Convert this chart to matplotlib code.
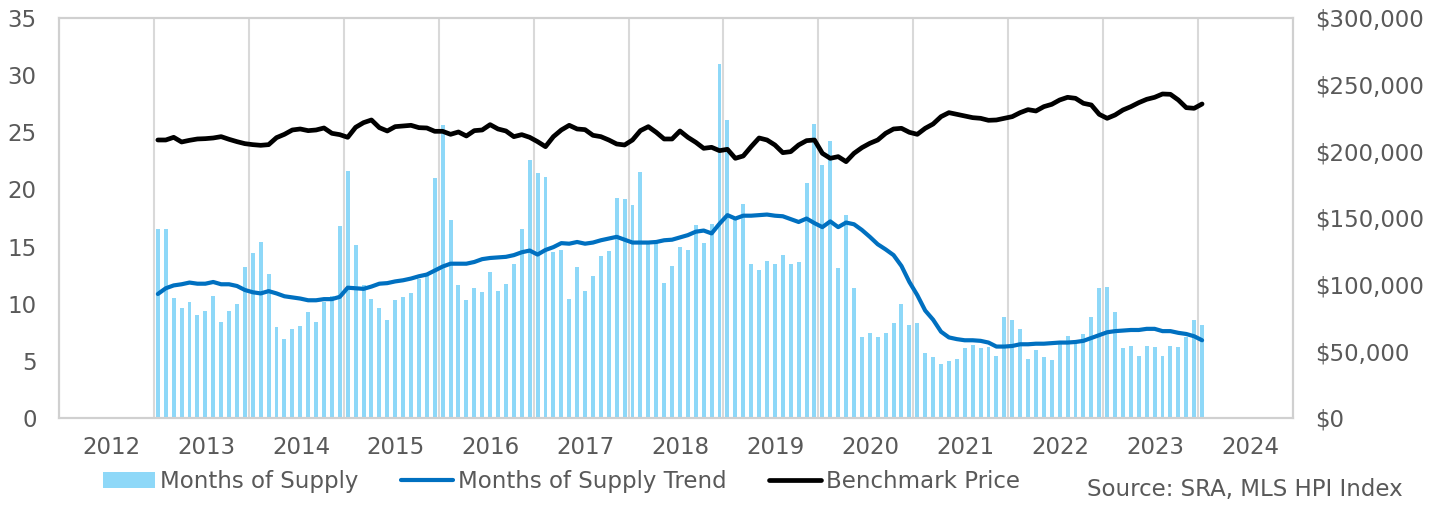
import matplotlib
matplotlib.use("Agg")
import matplotlib.pyplot as plt
from matplotlib.ticker import FuncFormatter
import numpy as np

plt.rcParams['font.family'] = ['DejaVu Sans']

# monthly values, Jul 2012 .. Jul 2023
months_of_supply = [
    16.5, 16.5, 10.5, 9.6, 10.15, 9.0, 9.36, 10.7, 8.37, 9.4, 10.0, 13.2,
    14.4, 15.4, 12.6, 8.0, 6.9, 7.8, 8.05, 9.3, 8.37, 10.15, 10.7, 16.8,
    21.6, 15.1, 11.6, 10.4, 9.6, 8.6, 10.3, 10.6, 10.9, 12.2, 12.4, 21.0,
    25.6, 17.35, 11.6, 10.3, 11.35, 11.0, 12.8, 11.1, 11.7, 13.5, 16.5, 22.6,
    21.4, 21.1, 14.55, 14.7, 10.4, 13.2, 11.1, 12.4, 14.2, 14.6, 19.25, 19.2,
    18.6, 21.55, 15.3, 15.3, 11.8, 13.3, 15.0, 14.7, 16.9, 15.3, 17.0, 31.0,
    26.1, 17.4, 18.7, 13.5, 12.95, 13.7, 13.5, 14.3, 13.5, 13.65, 20.6, 25.75,
    22.1, 24.2, 13.1, 17.75, 11.35, 7.1, 7.4, 7.1, 7.4, 8.35, 9.95, 8.1,
    8.3, 5.7, 5.3, 4.75, 5.0, 5.2, 6.1, 6.4, 6.15, 6.2, 5.45, 8.85,
    8.6, 7.75, 5.15, 5.95, 5.3, 5.1, 6.5, 7.2, 6.7, 7.35, 8.8, 11.4,
    11.45, 9.3, 6.1, 6.3, 5.45, 6.3, 6.25, 5.4, 6.3, 6.25, 7.1, 8.6,
    8.1,
]

supply_trend = [
    10.85, 11.35, 11.6, 11.7, 11.85, 11.75, 11.75, 11.9, 11.7, 11.7, 11.55, 11.2,
    11.0, 10.9, 11.1, 10.9, 10.65, 10.55, 10.45, 10.3, 10.3, 10.4, 10.4, 10.6,
    11.4, 11.35, 11.3, 11.5, 11.75, 11.8, 11.95, 12.05, 12.2, 12.4, 12.55, 12.9,
    13.25, 13.5, 13.5, 13.5, 13.65, 13.9, 14.0, 14.05, 14.1, 14.25, 14.5, 14.65,
    14.3, 14.7, 14.95, 15.3, 15.25, 15.4, 15.25, 15.35, 15.55, 15.7, 15.85, 15.6,
    15.35, 15.35, 15.35, 15.4, 15.55, 15.6, 15.8, 16.0, 16.3, 16.4, 16.15, 17.0,
    17.75, 17.45, 17.7, 17.7, 17.75, 17.8, 17.7, 17.65, 17.4, 17.15, 17.45, 17.05,
    16.7, 17.2, 16.7, 17.1, 16.95, 16.45, 15.85, 15.2, 14.75, 14.25, 13.3, 11.9,
    10.75, 9.4, 8.6, 7.55, 7.05, 6.9, 6.8, 6.8, 6.75, 6.6, 6.25, 6.25,
    6.3, 6.45, 6.45, 6.5, 6.5, 6.55, 6.6, 6.6, 6.65, 6.75, 7.0, 7.25,
    7.5, 7.6, 7.65, 7.7, 7.7, 7.8, 7.8, 7.6, 7.6, 7.45, 7.35, 7.15,
    6.8,
]

benchmark_price = [
    208500, 208500, 210500, 207000, 208250, 209250, 209500, 210000, 211000, 209000, 207250, 205750,
    205000, 204500, 205000, 210250, 212750, 216000, 216750, 215500, 216000, 217500, 213500, 212500,
    210500, 218000, 221500, 223500, 217750, 215250, 218500, 219000, 219500, 217750, 217500, 215000,
    215000, 212750, 214500, 211500, 215500, 216000, 220000, 216750, 215250, 211000, 212500, 210500,
    207250, 203500, 211000, 216000, 219500, 216750, 216250, 212000, 211000, 208500, 205500, 204750,
    208500, 215500, 218500, 214250, 209250, 209250, 215250, 210500, 206750, 202250, 203000, 200500,
    201500, 194750, 196500, 203500, 210000, 208500, 204750, 199000, 199750, 204750, 208000, 208500,
    198500, 194750, 196000, 192250, 198500, 202750, 206000, 208500, 213500, 216750, 217250, 214250,
    212750, 217250, 220500, 226000, 229000, 227750, 226500, 225250, 224750, 223250, 223500, 224750,
    226000, 229000, 231250, 230250, 233500, 235250, 238500, 240500, 239750, 236000, 234750, 227750,
    224750, 227250, 231000, 233500, 236500, 239000, 240500, 243000, 242750, 238500, 232750, 232250,
    235500,
]

year_labels = ['2012', '2013', '2014', '2015', '2016', '2017', '2018',
               '2019', '2020', '2021', '2022', '2023', '2024']

txt = '#595959'
grid_c = '#D9D9D9'
fs = 16.5

fig = plt.figure(figsize=(14.42, 5.05), dpi=100)
ax = fig.add_axes([0.0409, 0.1723, 0.8558, 0.7921])

x = 12.5 + np.arange(len(months_of_supply))

bars = ax.bar(x, months_of_supply, width=0.5, color='#8ED8F8', label='Months of Supply', zorder=2)
trend, = ax.plot(x, supply_trend, color='#0070C0', lw=3.0, solid_capstyle='round',
                 label='Months of Supply Trend', zorder=3)

ax.set_xlim(0, 12 * len(year_labels))
ax.set_ylim(0, 35)
ax.set_yticks(np.arange(0, 36, 5))
ax.set_xticks(np.arange(0, 12 * len(year_labels) + 1, 12))
ax.set_xticklabels([])
ax.set_xticks(6.6 + 12 * np.arange(len(year_labels)), year_labels, minor=True)
ax.grid(axis='x', which='major', color=grid_c, lw=1.5, zorder=0)
ax.tick_params(axis='x', which='both', length=0, pad=13, labelsize=fs, labelcolor=txt)
ax.tick_params(axis='y', length=0, pad=16, labelsize=fs, labelcolor=txt)

ax2 = ax.twinx()
price, = ax2.plot(x, benchmark_price, color='black', lw=3.4, solid_capstyle='round',
                  label='Benchmark Price', zorder=4)
ax2.set_ylim(0, 300000)
ax2.set_yticks(np.arange(0, 300001, 50000))
ax2.yaxis.set_major_formatter(FuncFormatter(lambda v, p: '${:,.0f}'.format(v)))
ax2.tick_params(axis='y', length=0, pad=16, labelsize=fs, labelcolor=txt)

for a in (ax, ax2):
    for s in a.spines.values():
        s.set_color('#D0D0D0')
        s.set_linewidth(1.5)

fig.legend([bars, trend, price],
           ['Months of Supply', 'Months of Supply Trend', 'Benchmark Price'],
           loc='center left', bbox_to_anchor=(0.057, 0.047),
           ncol=3, frameon=False, fontsize=fs, labelcolor=txt,
           handlelength=2.27, handletextpad=0.22, columnspacing=1.85)

fig.text(0.973, 0.03, 'Source: SRA, MLS HPI Index', ha='right', va='center',
         fontsize=fs, color=txt)

fig.savefig('out.png', dpi=100)
